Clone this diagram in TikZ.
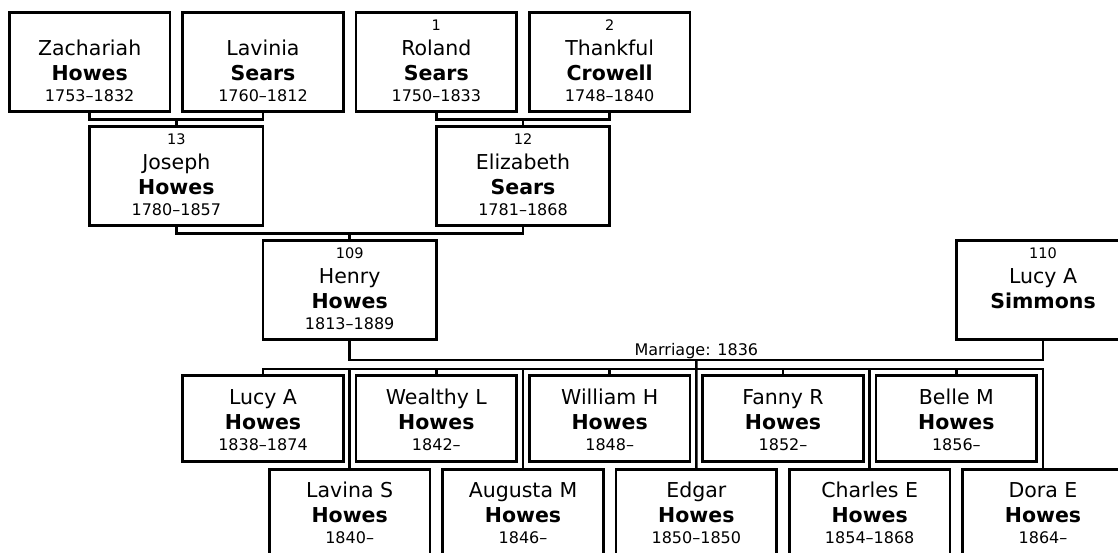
\documentclass[tikz,border=0pt]{standalone}
\usepackage{fontspec}
\setmainfont{DejaVu Sans}
\usepackage{tikz}
\usetikzlibrary{positioning, calc}

\newcommand{\pnum}{\fontsize{14.5}{17}\selectfont\rule{0pt}{10.6pt}}
\newcommand{\pdate}{\fontsize{16}{19}\selectfont\rule[-4pt]{0pt}{4pt}}
\newcommand{\kidtop}{\rule{0pt}{21pt}}

\begin{document}
\begin{tikzpicture}[
        x=1pt, y=-1pt,
        node distance=12.67pt,
        elder/.style={rectangle, draw, line width=2.5pt, minimum width=160.67pt, minimum height=99pt, inner sep=0pt, outer sep=0pt, align=center, font=\fontsize{20.5}{25}\selectfont},
        parent/.style={elder, minimum width=173.33pt},
        kid/.style={elder, minimum height=86pt},
        link/.style={line width=2.5pt},
        marr/.style={font=\fontsize{16}{19}\selectfont, inner sep=0.5pt, above}
    ]
        \useasboundingbox (0,0) rectangle (1118,552);

        \node[elder] (zachariah) at (89.67,62.2) {{\pnum}\\Zachariah\\\textbf{Howes}\\[-4pt]{\pdate 1753–1832}};
        \node[elder, right=of zachariah] (lavinia) {{\pnum}\\Lavinia\\\textbf{Sears}\\[-4pt]{\pdate 1760–1812}};
        \node[elder, right=of lavinia] (roland) {{\pnum 1}\\Roland\\\textbf{Sears}\\[-4pt]{\pdate 1750–1833}};
        \node[elder, right=of roland] (thankful) {{\pnum 2}\\Thankful\\\textbf{Crowell}\\[-4pt]{\pdate 1748–1840}};

        \draw[link] (zachariah.south) -- ++(0,7.6) -| (lavinia.south);
        \coordinate (zl) at ($(zachariah.south)!0.5!(lavinia.south)$);
        \node[parent, below=15pt of zl] (joseph) {{\pnum 13}\\Joseph\\\textbf{Howes}\\[-4pt]{\pdate 1780–1857}};
        \draw[link] (joseph.north) -- ++(0,-7.4);

        \draw[link] (roland.south) -- ++(0,7.6) -| (thankful.south);
        \coordinate (rt) at ($(roland.south)!0.5!(thankful.south)$);
        \node[parent, below=15pt of rt] (elizabeth) {{\pnum 12}\\Elizabeth\\\textbf{Sears}\\[-4pt]{\pdate 1781–1868}};
        \draw[link] (elizabeth.north) -- ++(0,-7.4);

        \draw[link] (joseph.south) -- ++(0,7.6) -| (elizabeth.south);
        \coordinate (je) at ($(joseph.south)!0.5!(elizabeth.south)$);
        \node[parent, below=15pt of je] (henry) {{\pnum 109}\\Henry\\\textbf{Howes}\\[-4pt]{\pdate 1813–1889}};
        \draw[link] (henry.north) -- ++(0,-7.4);

        \node[parent, right=520pt of henry] (simmons) {{\pnum 110}\\Lucy A\\\textbf{Simmons}\\[-4pt]{\pdate}};

        \draw[link] (henry.south) -- ++(0,20.5) -| node[marr, pos=0.25] (marriage) {Marriage: 1836} coordinate[pos=0.25] (mdrop) (simmons.south);

        \node[kid] (lucy) at (263,418.7) {\kidtop Lucy A\\\textbf{Howes}\\[-4pt]{\pdate 1838–1874}};
        \node[kid, right=of lucy] (wealthy) {\kidtop Wealthy L\\\textbf{Howes}\\[-4pt]{\pdate 1842–}};
        \node[kid, right=of wealthy] (william) {\kidtop William H\\\textbf{Howes}\\[-4pt]{\pdate 1848–}};
        \node[kid, right=of william] (fanny) {\kidtop Fanny R\\\textbf{Howes}\\[-4pt]{\pdate 1852–}};
        \node[kid, right=of fanny] (belle) {\kidtop Belle M\\\textbf{Howes}\\[-4pt]{\pdate 1856–}};

        \node[kid] (lavina) at (349.67,512.3) {\kidtop Lavina S\\\textbf{Howes}\\[-4pt]{\pdate 1840–}};
        \node[kid, right=of lavina] (augusta) {\kidtop Augusta M\\\textbf{Howes}\\[-4pt]{\pdate 1846–}};
        \node[kid, right=of augusta] (edgar) {\kidtop Edgar\\\textbf{Howes}\\[-4pt]{\pdate 1850–1850}};
        \node[kid, right=of edgar] (charles) {\kidtop Charles E\\\textbf{Howes}\\[-4pt]{\pdate 1854–1868}};
        \node[kid, right=of charles] (dora) {\kidtop Dora E\\\textbf{Howes}\\[-4pt]{\pdate 1864–}};

        \draw[link] (lucy.north) -- ++(0,-6.7) coordinate (bus) -| (dora.north);
        \draw[link] (edgar.north) -- (mdrop);
        \draw[link] (wealthy.north) -- (wealthy.north |- bus);
        \draw[link] (william.north) -- (william.north |- bus);
        \draw[link] (fanny.north) -- (fanny.north |- bus);
        \draw[link] (belle.north) -- (belle.north |- bus);
        \draw[link] (lavina.north) -- (lavina.north |- bus);
        \draw[link] (augusta.north) -- (augusta.north |- bus);
        \draw[link] (charles.north) -- (charles.north |- bus);
    \end{tikzpicture}
\end{document}
